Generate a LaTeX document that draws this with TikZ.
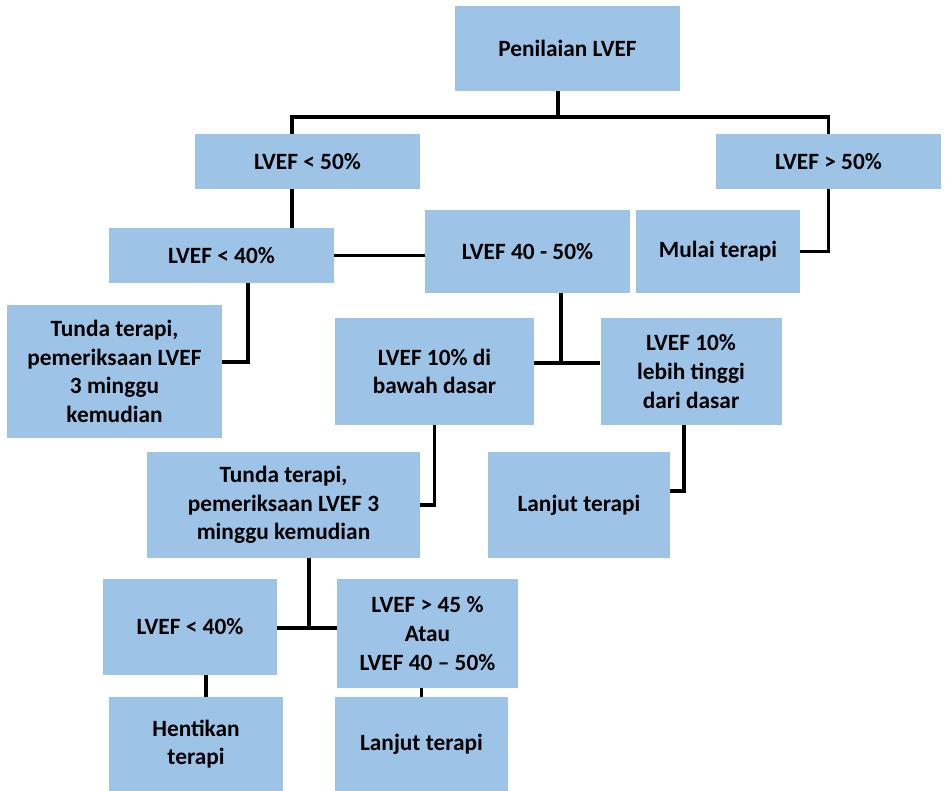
\documentclass[tikz,border=0pt]{standalone}
\usepackage{fontspec}
\setmainfont{Carlito}
\usepackage{xcolor}
\definecolor{boxblue}{HTML}{9DC3E6}

\begin{document}
\begin{tikzpicture}[x=0.75pt, y=-0.75pt,
        box/.style 2 args={rectangle, fill=boxblue, align=center, inner sep=0pt, minimum width=#1*0.75pt, minimum height=#2*0.75pt, font=\bfseries\fontsize{17.5}{21.5}\selectfont},
        link/.style={line width=2.6pt}]
        \useasboundingbox (0,0) rectangle (945,791);

        \node[box={225}{85}] (start) at (567.5,48.5) {Penilaian LVEF};
        \node[box={225}{55}] (lt50) at (307.5,161.5) {LVEF < 50\%};
        \node[box={225}{55}] (gt50) at (828.5,161.5) {LVEF > 50\%};
        \node[box={164}{83}] (mulai) at (718,251.5) {Mulai terapi};
        \node[box={225}{55}] (lt40) at (221.5,255.5) {LVEF < 40\%};
        \node[box={205}{83}] (mid) at (527.5,251.5) {LVEF 40 - 50\%};
        \node[box={215}{133}] (tunda1) at (114.5,371.5) {Tunda terapi,\\pemeriksaan LVEF\\3 minggu\\kemudian};
        \node[box={199}{107}] (lo10) at (434.5,371.5) {LVEF 10\% di\\bawah dasar};
        \node[box={181}{107}] (hi10) at (691,371.5) {LVEF 10\%\\lebih tinggi\\dari dasar};
        \node[box={273}{106}] (tunda2) at (283.5,505) {Tunda terapi,\\pemeriksaan LVEF 3\\minggu kemudian};
        \node[box={182}{106}] (lanjut1) at (579,505) {Lanjut terapi};
        \node[box={174}{96}] (lt40b) at (190,627) {LVEF < 40\%};
        \node[box={181}{109}] (gt45) at (427.5,633.5) {LVEF > 45 \%\\Atau\\LVEF 40 -- 50\%};
        \node[box={174}{94}] (hent) at (196,744) {Hentikan\\terapi};
        \node[box={173}{94}] (lanjut2) at (421.5,744) {Lanjut terapi};

        \coordinate (split) at (558,117);
        \coordinate (left) at (292,117);
        \coordinate (k1) at (248,362);
        \coordinate (k2) at (561,363);
        \coordinate (k3) at (684,491);
        \coordinate (k4) at (309,628);
        \coordinate (k5) at (206,686);

        \draw[link] (split |- start.south) -- (split);
        \draw[link] (left |- lt50.north) -- (left) -- (split) -| (gt50.north);
        \draw[link] (left |- lt50.south) -- (left |- lt40.north);
        \draw[link] (gt50.south) |- (mulai.east);
        \draw[link] (lt40.east) -- (lt40.east -| mid.west);
        \draw[link] (k1 |- lt40.south) -- (k1) -- (k1 -| tunda1.east);
        \draw[link] (k2 |- mid.south) -- (k2);
        \draw[link] (lo10.east |- k2) -- (hi10.west |- k2);
        \draw[link] (lo10.south) |- (tunda2.east);
        \draw[link] (k3 |- hi10.south) -- (k3) -- (k3 -| lanjut1.east);
        \draw[link] (k4 |- tunda2.south) -- (k4);
        \draw[link] (lt40b.east |- k4) -- (gt45.west |- k4);
        \draw[link] (k5 |- lt40b.south) -- (k5 |- hent.north);
        \draw[link] (gt45.south -| lanjut2.north) -- (lanjut2.north);
    \end{tikzpicture}
\end{document}
